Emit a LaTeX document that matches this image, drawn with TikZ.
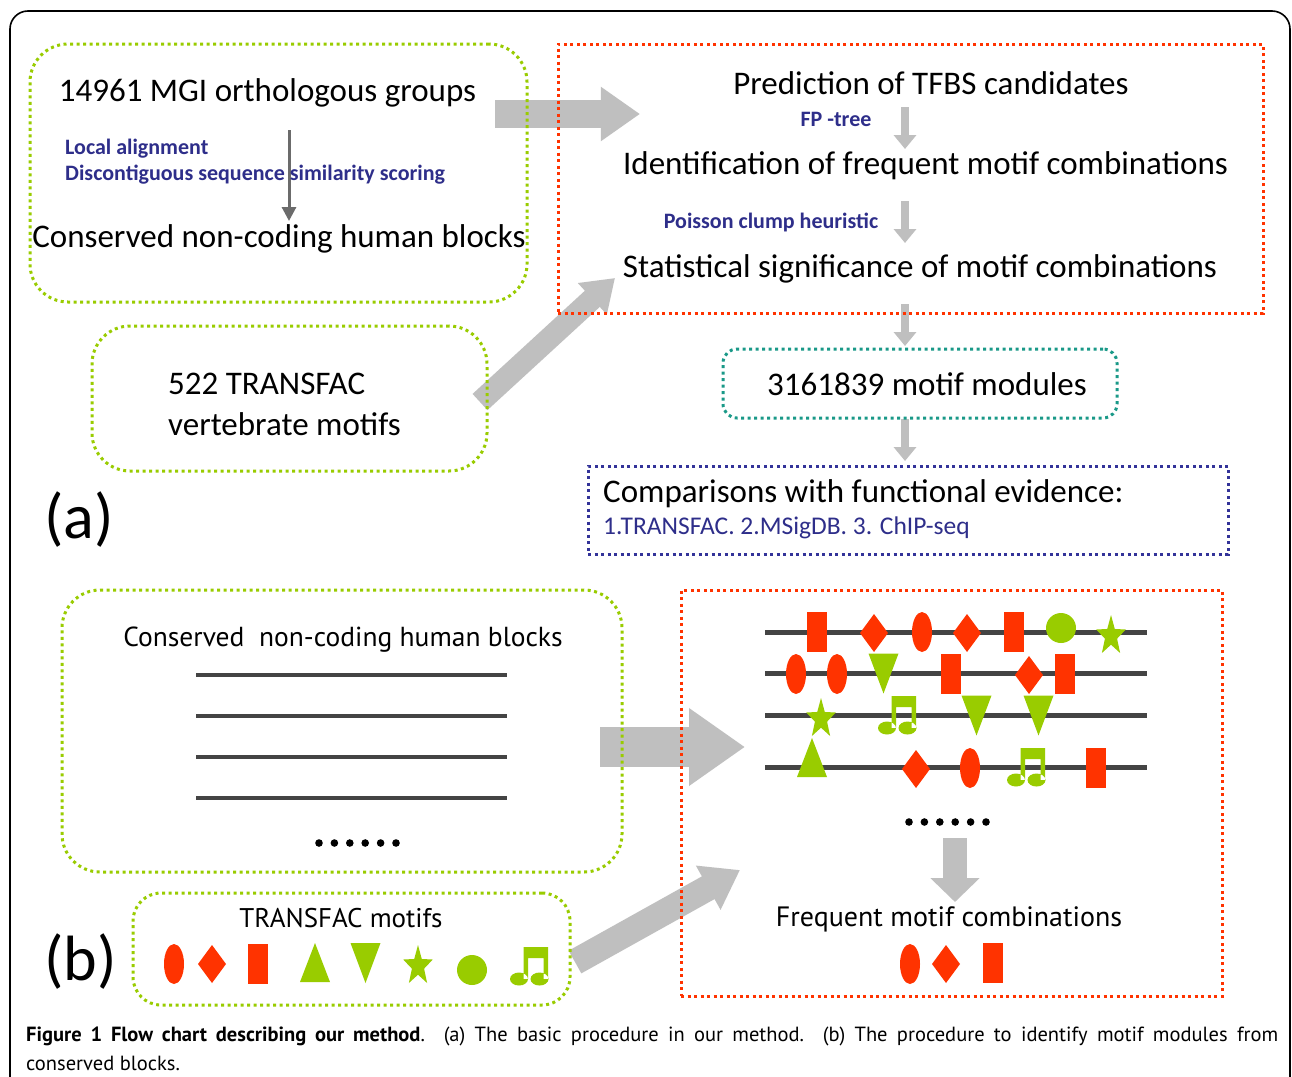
\documentclass[tikz,border=0pt]{standalone}
\usepackage{fontspec}
\setmainfont{Carlito}
\newfontfamily\bfont{PT Sans}
\usetikzlibrary{arrows.meta,shapes.geometric}
\definecolor{mygreen}{HTML}{99CC00}
\definecolor{myred}{HTML}{FF3300}
\definecolor{mynavy}{HTML}{2E2E8A}
\definecolor{boxnavy}{HTML}{333399}
\definecolor{myteal}{HTML}{1A9988}
\definecolor{arrgray}{HTML}{BFBFBF}
\definecolor{linegray}{HTML}{444444}
\newcommand\fs[1]{\fontsize{#1}{#1}\selectfont}
\newcommand\mrect[2]{\fill[myred] ({#1-10},{#2-20}) rectangle ({#1+10},{#2+20});}
\newcommand\mell[2]{\fill[myred] (#1,#2) ellipse [x radius=10, y radius=20];}
\newcommand\mdia[2]{\fill[myred] (#1,{#2-19}) -- ({#1+14},#2) -- (#1,{#2+19}) -- ({#1-14},#2) -- cycle;}
\newcommand\mup[2]{\fill[mygreen] ({#1-15},{#2+19}) -- ({#1+15},{#2+19}) -- (#1,{#2-20}) -- cycle;}
\newcommand\mdown[2]{\fill[mygreen] ({#1-15},{#2-20}) -- ({#1+15},{#2-20}) -- (#1,{#2+20}) -- cycle;}
\newcommand\mcirc[2]{\fill[mygreen] (#1,#2) circle [radius=15];}
\newcommand\mnote[2]{\fill[mygreen] ({#1+13.5},#2) rectangle ({#1+38},{#2+11})
  ({#1+13.5},#2) rectangle ({#1+18},{#2+32}) ({#1+33.5},#2) rectangle ({#1+38},{#2+32})
  ({#1+9},{#2+32}) ellipse [x radius=9, y radius=6.5] ({#1+29.5},{#2+32}) ellipse [x radius=9, y radius=6.5];}
\newcommand\mstar[2]{\fill[mygreen] (#1,{#2-21})
  \foreach \k in {1,...,9} { -- ({#1+(mod(\k,2)==0 ? 15.5 : 6.4)*cos(-90+36*\k)},{#2+(mod(\k,2)==0 ? 21 : 8.7)*sin(-90+36*\k)}) } -- cycle;}
\tikzset{
  gbox/.style={draw=mygreen, line width=3pt, dash pattern=on 3pt off 3.5pt, rounded corners=38pt, inner sep=0pt},
  rbox/.style={draw=myred, line width=3pt, dash pattern=on 3pt off 3.5pt, inner sep=0pt},
  tbox/.style={draw=myteal, line width=3pt, dash pattern=on 3pt off 3.5pt, rounded corners=14pt, inner sep=0pt},
  nbox/.style={draw=boxnavy, line width=3pt, dash pattern=on 3pt off 3.5pt, inner sep=0pt},
  txt/.style={inner sep=0pt, text=black},
  bigtxt/.style={txt, font=\fs{33}},
  bluetxt/.style={inner sep=0pt, text=mynavy, font=\fs{22}\bfseries},
  btxt/.style={inner sep=0pt, text=black, font=\bfont\fs{27.5}},
  thinarr/.style={draw=black!58, line width=3pt, -{Triangle[width=14pt,length=14pt]}},
  smallarr/.style={draw=arrgray, line width=8pt, -{Triangle[width=22pt,length=14pt]}},
  bigarr/.style={draw=arrgray, line width=#1, -{Triangle[width=1.85*#1,length=1.4*#1]}},
}
\begin{document}
\begin{tikzpicture}[x=1pt,y=-1pt]
\useasboundingbox (0,0) rectangle (1292,1076);
\fill[white] (0,0) rectangle (1292,1076);
\begin{scope}
\clip (0,0) rectangle (1292,1076);
\draw[black, line width=1.6pt, rounded corners=18pt] (10,11) rectangle (1290,1110);
\end{scope}
% ---------- block arrows (under the boxes) ----------
\coordinate (A1s) at (495,114); \coordinate (A1e) at (640,114);
\draw[bigarr=28pt] (A1s) -- (A1e);
\coordinate (A2s) at (480,402); \coordinate (A2e) at (615,278);
\draw[bigarr=22pt] (A2s) -- (A2e);
\coordinate (B1s) at (600,747); \coordinate (B1e) at (745,747);
\draw[bigarr=40pt] (B1s) -- (B1e);
\coordinate (B2s) at (575,962); \coordinate (B2e) at (740,870);
\draw[bigarr=26pt] (B2s) -- (B2e);
\coordinate (B3s) at (955,838); \coordinate (B3e) at (955,902);
\draw[draw=arrgray, line width=24pt, -{Triangle[width=48pt,length=24pt]}] (B3s) -- (B3e);
% small arrows
\coordinate (s1a) at (905,107); \coordinate (s1b) at (905,149);
\coordinate (s2a) at (905,201); \coordinate (s2b) at (905,243);
\coordinate (s3a) at (905,304); \coordinate (s3b) at (905,346);
\coordinate (s4a) at (905,419); \coordinate (s4b) at (905,461);
\draw[smallarr] (s1a) -- (s1b);
\draw[smallarr] (s2a) -- (s2b);
\draw[smallarr] (s3a) -- (s3b);
\draw[smallarr] (s4a) -- (s4b);
\coordinate (th1) at (289,130); \coordinate (th2) at (289,221);
\draw[thinarr] (th1) -- (th2);
% ---------- boxes ----------
\node[gbox, minimum width=497pt, minimum height=258pt] (G1) at (278.5,173) {};
\node[rbox, minimum width=705pt, minimum height=269pt] (R1) at (910.5,178.5) {};
\node[gbox, minimum width=395pt, minimum height=145pt] (G2) at (289.5,398.5) {};
\node[tbox, minimum width=394pt, minimum height=69pt] (T1) at (920,383.5) {};
\node[nbox, minimum width=640pt, minimum height=88pt] (N1) at (908,510) {};
\node[gbox, minimum width=560pt, minimum height=282pt] (G3) at (342,731) {};
\node[rbox, minimum width=541pt, minimum height=406pt] (R2) at (951.5,793) {};
\node[gbox, rounded corners=28pt, minimum width=437pt, minimum height=112pt] (G4) at (351.5,949) {};
% ---------- panel (a) texts ----------
\node[bigtxt] (t1) at (267.5,93) {14961 MGI orthologous groups};
\node[bluetxt, anchor=west] (la) at (65,149) {Local alignment};
\node[bluetxt, anchor=west] (ds) at (65,175) {Discontiguous sequence similarity scoring};
\node[bigtxt] (t2) at (279,239) {Conserved non-coding human blocks};
\node[bigtxt] (p1) at (931,83) {Prediction of TFBS candidates};
\node[bluetxt] (fp) at (836,119) {FP -tree};
\node[bigtxt] (p2) at (925.5,166) {Identification of frequent motif combinations};
\node[bluetxt] (pc) at (771,222) {Poisson clump heuristic};
\node[bigtxt] (p3) at (920,269) {Statistical significance of motif combinations};
\node[bigtxt, anchor=west] (m1) at (168,384) {522 TRANSFAC};
\node[bigtxt, anchor=west] (m2) at (168,424) {vertebrate motifs};
\node[bigtxt] (mm) at (927,384) {3161839 motif modules};
\node[bigtxt, anchor=west] (ce) at (603,494) {Comparisons with functional evidence:};
\node[txt, anchor=west, text=mynavy, font=\fs{25.5}] (ce2) at (603,528) {1.TRANSFAC. 2.MSigDB. 3. ChIP-seq};
\node[txt, anchor=west, font=\fs{64}] (la1) at (44,520) {(a)};
% ---------- panel (b) ----------
\node[btxt] (cb) at (343,640) {Conserved\ \ non-coding human blocks};
\foreach \yy in {675,716,757,798} \draw[linegray, line width=4.5pt] (196,\yy) -- (507,\yy);
\foreach \i in {0,...,5} \fill (319+15.4*\i,843) circle [radius=3.8];
\foreach \yy in {632,673,715,767} \draw[linegray, line width=5pt] (765,\yy) -- (1147,\yy);
\foreach \i in {0,...,5} \fill (909+15.4*\i,822) circle [radius=3.8];
% line 1
\mrect{817}{632} \mdia{874}{633} \mell{922}{632} \mdia{967}{633} \mrect{1014}{632} \mcirc{1061}{628}
\mstar{1111}{636}
% line 2
\mell{796}{674} \mell{837}{674} \mdown{883.5}{673.5} \mrect{951}{674} \mdia{1029}{675} \mrect{1065}{674}
% line 3
\mstar{821}{719}
\mnote{878}{696} \mdown{976.5}{715.5} \mdown{1038.5}{715.5}
% line 4
\mup{812}{758} \mdia{916}{769} \mell{970}{768} \mnote{1007}{748} \mrect{1096}{768}
\node[btxt, font=\bfont\fs{28}] (fq) at (949,919) {Frequent motif combinations};
\mell{910}{964} \mdia{946}{964} \mrect{993}{963}
\node[txt, font=\bfont\fs{27}] (tm) at (341,918) {TRANSFAC motifs};
\mell{174}{964} \mdia{212}{964} \mrect{258}{964} \mup{315}{963} \mdown{365.5}{963}
\mstar{418}{966}
\mcirc{472}{970} \mnote{510}{947}
\node[txt, anchor=west, font=\fs{64}] (lb1) at (44,962) {(b)};
% ---------- caption ----------
\node[txt, anchor=west, font=\bfont\fs{20.5}] (cap1) at (26,1036) {\makebox[1252pt][s]{\textbf{Figure 1 Flow chart describing our method}. (a) The basic procedure in our method. (b) The procedure to identify motif modules from}};
\node[txt, anchor=west, font=\bfont\fs{20.5}] (cap2) at (26,1063) {conserved blocks.};
\end{tikzpicture}
\end{document}
